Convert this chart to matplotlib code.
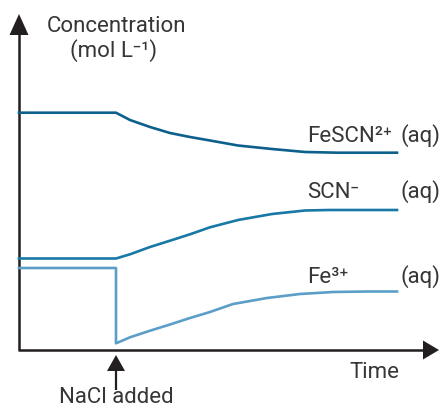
import matplotlib
matplotlib.use("Agg")
import matplotlib.pyplot as plt

plt.rcParams['font.family'] = ['Roboto', 'DejaVu Sans']

# time (arbitrary units) and concentration (arbitrary units)
nacl_time = 9.7

fescn_t = [0, 9.7, 11.1, 13.1, 15.1, 17.1, 19.1, 21.9, 25.3, 28.6, 31.9, 37.8]
fescn_c = [23.73, 23.73, 23.0, 22.3, 21.7, 21.3, 20.95, 20.45, 20.1, 19.8, 19.73, 19.73]

scn_t = [0, 9.7, 11.1, 13.1, 15.1, 17.1, 19.1, 21.9, 25.3, 28.6, 31.0, 37.8]
scn_c = [9.15, 9.15, 9.57, 10.3, 10.93, 11.57, 12.27, 13.0, 13.6, 13.95, 14.0, 14.0]

fe_t = [0, 9.7, 9.7, 11.1, 13.1, 15.1, 17.1, 19.1, 21.4, 24.8, 28.1, 31.4, 34.8, 37.8]
fe_c = [8.2, 8.2, 0.67, 1.27, 1.93, 2.55, 3.2, 3.8, 4.6, 5.2, 5.6, 5.8, 5.85, 5.85]

species = ['FeSCN²⁺', 'SCN⁻', 'Fe³⁺']
label_y = [20.8, 15.2, 6.7]
colors = ['#0d5f8c', '#1878a6', '#5b9ec7']

fig = plt.figure(figsize=(4.41, 4.08), dpi=100)
ax = fig.add_axes([0, 0, 1, 1])
ax.set_xlim(-1.9, 42.2)
ax.set_ylim(-5.8, 35.0)
ax.axis('off')

axis_col = '#231f20'
text_col = '#363636'

# axes with arrowheads
ax.plot([0, 0], [0, 31.6], color=axis_col, lw=1.8, solid_capstyle='butt')
ax.fill([-0.95, 0.95, 0], [31.5, 31.5, 33.6], color=axis_col, lw=0)
ax.plot([-0.1, 40.5], [0, 0], color=axis_col, lw=1.8, solid_capstyle='butt')
ax.fill([40.4, 40.4, 42.0], [0.95, -0.95, 0], color=axis_col, lw=0)

# NaCl arrow
ax.plot([nacl_time, nacl_time], [-4.0, -1.9], color=axis_col, lw=1.6, solid_capstyle='butt')
ax.fill([nacl_time - 0.9, nacl_time + 0.9, nacl_time], [-2.1, -2.1, -0.5], color=axis_col, lw=0)

ax.plot(fescn_t, fescn_c, color=colors[0], lw=1.9, solid_joinstyle='round')
ax.plot(scn_t, scn_c, color=colors[1], lw=1.9, solid_joinstyle='round')
ax.plot(fe_t, fe_c, color=colors[2], lw=1.9, solid_joinstyle='round')

fs = 16
tk = dict(color=text_col)
for name, y in zip(species, label_y):
    ax.text(28.8, y, name, fontsize=fs, va='baseline', ha='left', **tk)
    ax.text(38.1, y, '(aq)', fontsize=fs, va='baseline', ha='left', **tk)

ax.text(9.7, 31.8, 'Concentration', fontsize=fs, ha='center', va='baseline', **tk)
ax.text(9.5, 29.3, '(mol L⁻¹)', fontsize=fs, ha='center', va='baseline', **tk)
ax.text(33.0, -2.8, 'Time', fontsize=fs, ha='left', va='baseline', **tk)
ax.text(9.7, -5.3, 'NaCl added', fontsize=fs, ha='center', va='baseline', **tk)

fig.savefig('out.png', dpi=100)
plt.close(fig)
